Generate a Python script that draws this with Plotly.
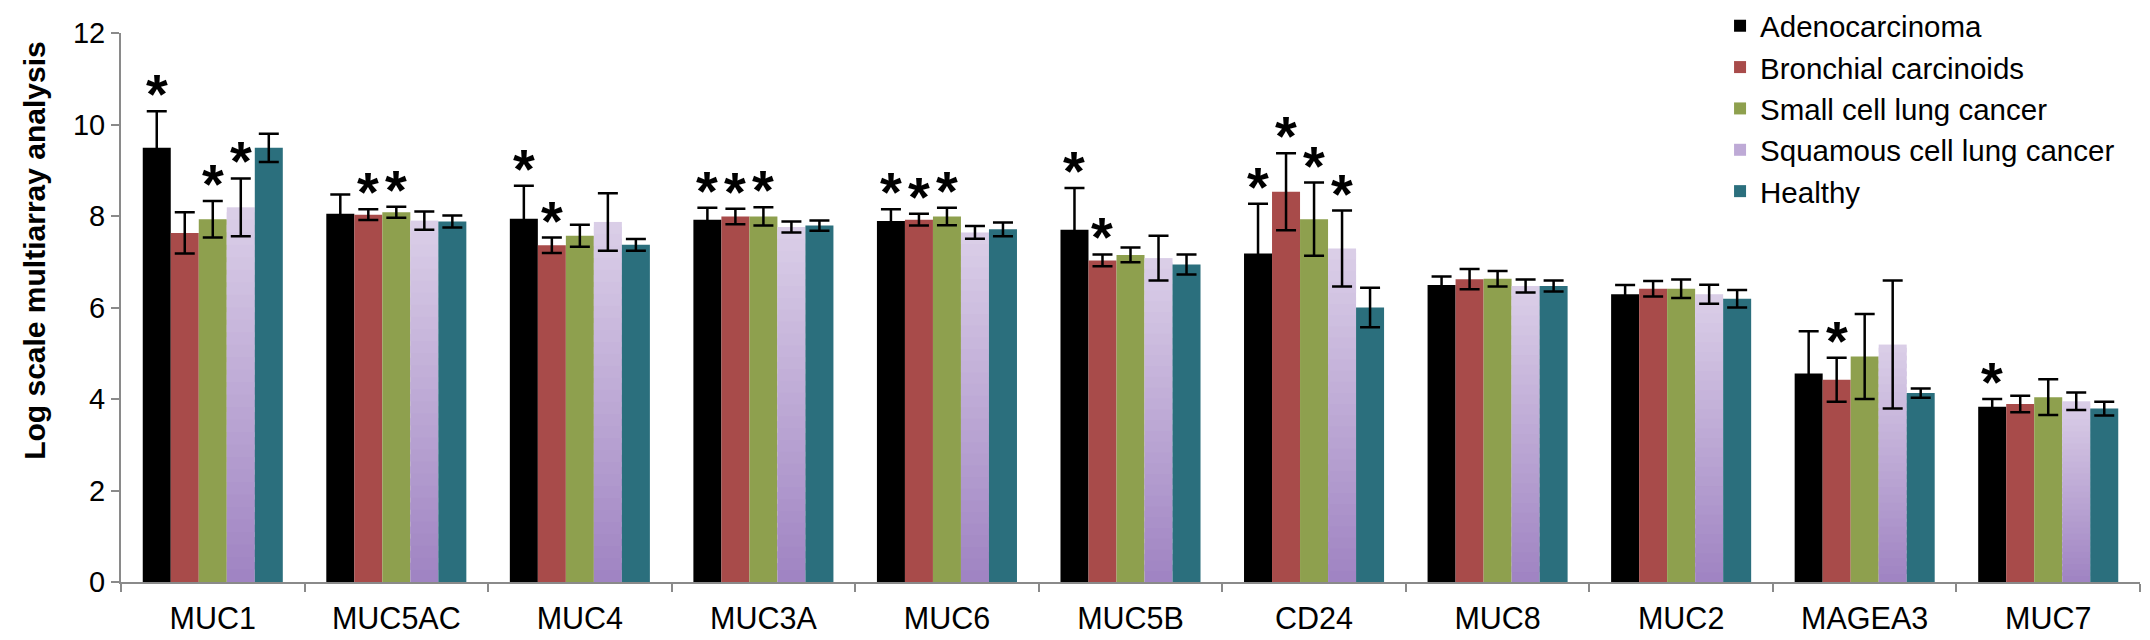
import plotly.graph_objects as go

categories = ["MUC1", "MUC5AC", "MUC4", "MUC3A", "MUC6", "MUC5B", "CD24", "MUC8", "MUC2", "MAGEA3", "MUC7"]
series_names = ["Adenocarcinoma", "Bronchial carcinoids", "Small cell lung cancer",
                "Squamous cell lung cancer", "Healthy"]

adeno = [9.49, 8.05, 7.94, 7.92, 7.89, 7.70, 7.18, 6.49, 6.29, 4.56, 3.83]
adeno_err = [0.80, 0.42, 0.72, 0.26, 0.26, 0.91, 1.09, 0.19, 0.20, 0.92, 0.17]
bronch = [7.63, 8.03, 7.36, 7.99, 7.92, 7.03, 8.53, 6.62, 6.41, 4.42, 3.89]
bronch_err = [0.45, 0.12, 0.17, 0.17, 0.13, 0.13, 0.84, 0.22, 0.17, 0.48, 0.18]
small = [7.93, 8.08, 7.57, 7.99, 7.99, 7.15, 7.93, 6.63, 6.41, 4.93, 4.04]
small_err = [0.40, 0.12, 0.24, 0.20, 0.19, 0.16, 0.80, 0.17, 0.20, 0.93, 0.39]
squam = [8.19, 7.90, 7.87, 7.76, 7.64, 7.08, 7.29, 6.47, 6.29, 5.19, 3.95]
squam_err = [0.63, 0.20, 0.63, 0.12, 0.14, 0.49, 0.83, 0.14, 0.21, 1.40, 0.19]
healthy = [9.49, 7.88, 7.37, 7.79, 7.71, 6.94, 6.00, 6.47, 6.19, 4.13, 3.79]
healthy_err = [0.31, 0.13, 0.13, 0.11, 0.15, 0.22, 0.43, 0.12, 0.19, 0.10, 0.15]

# significance markers (1 = asterisk shown)
adeno_sig = [1, 0, 1, 1, 1, 1, 1, 0, 0, 0, 1]
bronch_sig = [0, 1, 1, 1, 1, 1, 1, 0, 0, 1, 0]
small_sig = [1, 1, 0, 1, 1, 0, 1, 0, 0, 0, 0]
squam_sig = [1, 0, 0, 0, 0, 0, 1, 0, 0, 0, 0]
healthy_sig = [0] * 11

values = [adeno, bronch, small, squam, healthy]
errors = [adeno_err, bronch_err, small_err, squam_err, healthy_err]
sigs = [adeno_sig, bronch_sig, small_sig, squam_sig, healthy_sig]
colors = ["#000000", "#A84B4A", "#8EA04E", None, "#2B6F7D"]

FONT = "Liberation Sans, Arial, sans-serif"
BARGAP = 0.237
fig = go.Figure()

err_style = dict(type="data", visible=True, color="#000000", thickness=2.5, width=10)

for i, (name, v, e, c) in enumerate(zip(series_names, values, errors, colors)):
    if c is not None:
        fig.add_trace(go.Bar(
            x=categories, y=v, name=name, offsetgroup=str(i), legendrank=i + 1,
            marker=dict(color=c, line=dict(width=0)),
            error_y=dict(array=e, **err_style),
        ))
    else:
        # vertical gradient (dark bottom -> light top) built from stacked slices
        N = 30
        bot = (0x9F, 0x83, 0xC2)
        top = (0xDB, 0xCF, 0xE8)
        for k in range(N):
            f = (k + 0.5) / N
            col = "rgb(%d,%d,%d)" % tuple(round(b + (t - b) * f) for b, t in zip(bot, top))
            kw = {}
            if k == N - 1:
                kw["error_y"] = dict(array=e, **err_style)
                h = [val / N for val in v]
            else:
                h = [val * 1.6 / N for val in v]  # overlap hides seams; next slice covers it
            fig.add_trace(go.Bar(
                x=categories, y=h, base=[val * k / N for val in v],
                name=name, offsetgroup=str(i), legendrank=i + 1,
                showlegend=(k == N // 2),
                marker=dict(color=col, line=dict(width=0)), **kw,
            ))

# asterisks above the error bars
bw = (1 - BARGAP) / 5
annotations = []
for k, (v, e, s) in enumerate(zip(values, errors, sigs)):
    for ci in range(len(categories)):
        if s[ci]:
            annotations.append(dict(
                x=ci + (k - 2) * bw, y=v[ci] + e[ci], xref="x", yref="y",
                text="<b>*</b>", showarrow=False, yanchor="bottom", yshift=-16,
                font=dict(family=FONT, size=56, color="#000000"),
            ))

annotations.append(dict(
    x=-0.0426, y=0.605, xref="paper", yref="paper", text="<b>Log scale multiarray analysis</b>",
    textangle=-90, showarrow=False, xanchor="center", yanchor="middle",
    font=dict(family=FONT, size=30, color="#000000"),
))

fig.update_layout(
    width=2150, height=640,
    margin=dict(l=113, r=18, t=25, b=66, autoexpand=False),
    barmode="group", bargap=BARGAP, bargroupgap=0,
    plot_bgcolor="white", paper_bgcolor="white",
    font=dict(family=FONT, size=29, color="#000000"),
    showlegend=True,
    legend=dict(x=0.792, y=1.06, xanchor="left", yanchor="top",
                font=dict(family=FONT, size=29.5, color="#000000"),
                bgcolor="rgba(0,0,0,0)", traceorder="normal"),
    annotations=annotations,
)
fig.update_xaxes(
    type="category", tickson="boundaries", ticks="outside", ticklen=8, tickwidth=2,
    tickcolor="#8a8a8a", showline=True, linecolor="#8a8a8a", linewidth=2,
    showgrid=False, range=[-0.5, 10.5], ticklabelstandoff=8,
    tickfont=dict(family=FONT, size=30.5, color="#000000"),
)
fig.update_yaxes(
    range=[0, 12], dtick=2, ticks="outside", ticklen=8, tickwidth=2,
    tickcolor="#8a8a8a", showline=True, linecolor="#8a8a8a", linewidth=2,
    showgrid=False, zeroline=False,
    tickfont=dict(family=FONT, size=29, color="#000000"),
)

fig.write_html("out.html")
